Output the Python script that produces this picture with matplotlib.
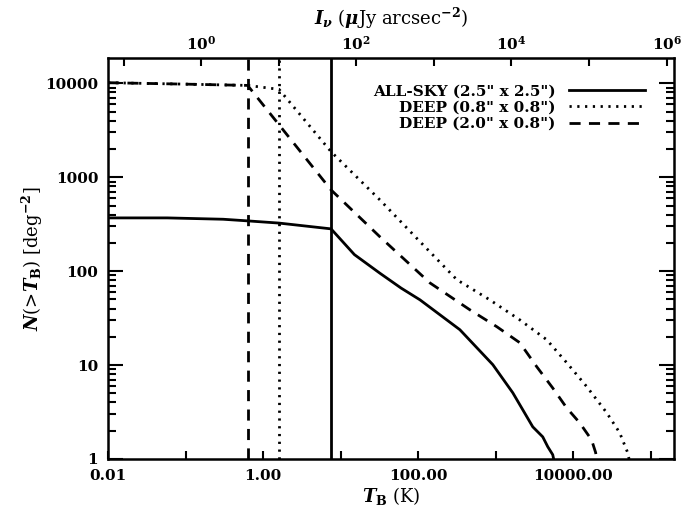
import matplotlib
matplotlib.use('Agg')
import matplotlib.pyplot as plt
from matplotlib.ticker import FixedLocator, NullFormatter, FixedFormatter, LogLocator

plt.rcParams['font.family'] = 'DejaVu Serif'
plt.rcParams['font.weight'] = 'bold'
plt.rcParams['mathtext.fontset'] = 'dejavuserif'

# ALL-SKY (2.5" x 2.5")
allsky_T = [0.01, 0.058, 0.305, 0.63, 1.6, 7.5, 15, 32, 60, 105, 343, 912, 1650, 2220, 2985, 4015, 4660, 5400, 5550]
allsky_N = [369, 369, 357, 343, 325, 282, 150, 95, 66, 49.5, 23.8, 10.1, 5.07, 3.34, 2.2, 1.72, 1.35, 1.11, 1.0]

# DEEP (0.8" x 0.8")
deep08_T = [0.01, 0.1, 0.63, 1.6, 7.5, 32, 100, 314, 834, 2030, 4520, 8170, 14800, 26700, 39300, 49900, 52000]
deep08_N = [10150, 9800, 9500, 8630, 1870, 573, 215, 81, 49.5, 30.3, 18.6, 10.6, 5.9, 3.12, 1.91, 1.17, 1.0]

# DEEP (2.0" x 0.8")
deep20_T = [0.01, 0.1, 0.63, 7.5, 32, 141, 461, 1028, 2030, 3360, 5400, 8170, 12000, 17100, 19300, 19800]
deep20_N = [10150, 9800, 9500, 733, 232, 75, 38.8, 25.6, 17.3, 9.6, 5.7, 3.5, 2.43, 1.6, 1.17, 1.0]

# thresholds (vertical lines)
thr_allsky = 7.5
thr_deep08 = 1.6
thr_deep20 = 0.63

k_conv = 6.3  # I_nu / T_B

xticks_major = [0.01, 1, 100, 1e4]
xticks_minor = [0.1, 10, 1e3, 1e5]
xtick_labels = ['0.01', '1.00', '100.00', '10000.00']
yticks = [1, 10, 100, 1000, 10000]
ytick_labels = ['1', '10', '100', '1000', '10000']
top_major = [1, 1e2, 1e4, 1e6]
top_minor = [1e-1, 1e1, 1e3, 1e5]
top_labels = [r'10$^{0}$', r'10$^{2}$', r'10$^{4}$', r'10$^{6}$']

fig = plt.figure(figsize=(6.81, 5.16), dpi=100)
ax = fig.add_axes([0.1586, 0.1105, 0.831, 0.7775])

dots = (0, (0.8, 2.0))
dashes = (0, (4, 3))
ax.plot(allsky_T, allsky_N, '-k', linewidth=2, label='ALL-SKY (2.5" x 2.5")')
ax.plot(deep08_T, deep08_N, color='k', linestyle=dots, linewidth=2, label='DEEP (0.8" x 0.8")')
ax.plot(deep20_T, deep20_N, color='k', linestyle=dashes, linewidth=2, label='DEEP (2.0" x 0.8")')

ax.axvline(thr_allsky, color='k', linestyle='-', linewidth=2)
ax.axvline(thr_deep08, color='k', linestyle=dots, linewidth=2)
ax.axvline(thr_deep20, color='k', linestyle=dashes, linewidth=2)

ax.set_xscale('log')
ax.set_yscale('log')
ax.set_xlim(0.01, 1.97e5)
ax.set_ylim(1, 1.87e4)

ax.xaxis.set_major_locator(FixedLocator(xticks_major))
ax.xaxis.set_major_formatter(FixedFormatter(xtick_labels))
ax.xaxis.set_minor_locator(FixedLocator(xticks_minor))
ax.xaxis.set_minor_formatter(NullFormatter())
ax.yaxis.set_major_locator(FixedLocator(yticks))
ax.yaxis.set_major_formatter(FixedFormatter(ytick_labels))
ax.yaxis.set_minor_locator(LogLocator(base=10, subs=range(2, 10)))
ax.yaxis.set_minor_formatter(NullFormatter())

ax.tick_params(axis='x', which='both', direction='in', length=6, width=1.5, top=False, labelsize=11, pad=7)
ax.tick_params(axis='y', which='major', direction='in', length=11, width=1.5, right=True, labelsize=11, pad=7)
ax.tick_params(axis='y', which='minor', direction='in', length=6, width=1.5, right=True)
for s in ax.spines.values():
    s.set_linewidth(1.8)

ax.set_xlabel(r'$T_{\rm B}$ (K)', fontsize=13, fontweight='normal', labelpad=2)
ax.set_ylabel(r'$N$(>$T_{\rm B}$) [deg$^{-2}$]', fontsize=13, fontweight='normal', labelpad=0)

top = ax.secondary_xaxis('top', functions=(lambda t: t * k_conv, lambda i: i / k_conv))
top.xaxis.set_major_locator(FixedLocator(top_major))
top.xaxis.set_major_formatter(FixedFormatter(top_labels))
top.xaxis.set_minor_locator(FixedLocator(top_minor))
top.xaxis.set_minor_formatter(NullFormatter())
top.tick_params(axis='x', which='both', direction='in', length=6, width=1.5, labelsize=11, pad=4)
top.set_xlabel(r'$I_\nu$ ($\mu$Jy arcsec$^{-2}$)', fontsize=13, fontweight='normal', labelpad=7)

leg = ax.legend(loc='upper right', bbox_to_anchor=(0.974, 0.968), frameon=False, fontsize=11,
                handlelength=5.0, markerfirst=False, labelspacing=0.15, handletextpad=0.9)
for t in leg.get_texts():
    t.set_ha('right')

fig.savefig('out.png', dpi=100)
